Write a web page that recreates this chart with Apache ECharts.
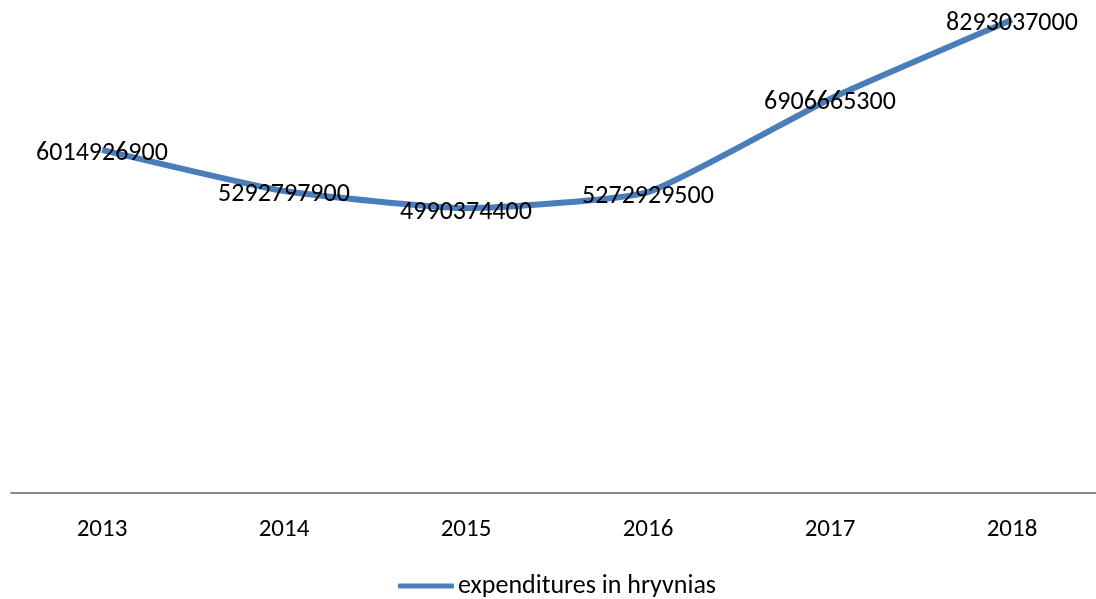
<!DOCTYPE html>
<html>
<head>
<meta charset="utf-8">
<script src="https://cdn.jsdelivr.net/npm/echarts@6/dist/echarts.min.js"></script>
<style>html,body{margin:0;padding:0;background:#fff;overflow:hidden}#c{width:1103px;height:599px}</style>
</head>
<body>
<div id="c"></div>
<script>
const years = ['2013', '2014', '2015', '2016', '2017', '2018'];
const expenditures = [6014926900, 5292797900, 4990374400, 5272929500, 6906665300, 8293037000];
const seriesName = 'expenditures in hryvnias';

const FONT = '"Carlito", "Open Sans", sans-serif';
const chart = echarts.init(document.getElementById('c'));
chart.setOption({
  animation: false,
  backgroundColor: '#ffffff',
  grid: { left: 11, right: 0, top: 8, bottom: 106, containLabel: false },
  xAxis: {
    type: 'category',
    data: years,
    boundaryGap: true,
    axisLine: { show: true, lineStyle: { color: '#898989', width: 2 } },
    axisTick: { show: false },
    axisLabel: { color: '#000', fontFamily: FONT, fontSize: 25, margin: 24 }
  },
  yAxis: {
    type: 'value',
    min: 0,
    max: 8500000000,
    show: false,
    splitLine: { show: false }
  },
  legend: {
    data: [seriesName],
    left: 393,
    top: 568,
    icon: 'roundRect',
    itemWidth: 56,
    itemHeight: 5,
    textStyle: { color: '#000', fontFamily: FONT, fontSize: 26, padding: [0, 0, 0, -1] }
  },
  series: [{
    name: seriesName,
    type: 'line',
    data: expenditures,
    smooth: 0.15,
    symbol: 'circle',
    symbolSize: 0,
    lineStyle: { color: '#4A7EBB', width: 6 },
    itemStyle: { color: '#4A7EBB' },
    label: {
      show: true,
      position: 'inside',
      offset: [0, 4],
      color: '#000',
      fontFamily: FONT,
      fontSize: 26
    }
  }]
});
</script>
</body>
</html>
